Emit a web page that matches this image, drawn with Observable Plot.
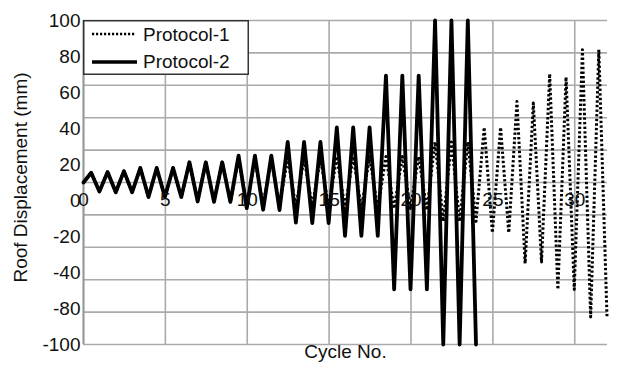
<!DOCTYPE html>
<html>
<head>
<meta charset="utf-8">
<script src="https://cdn.jsdelivr.net/npm/d3@7"></script>
<script src="https://cdn.jsdelivr.net/npm/@observablehq/plot@0.6"></script>
<style>
  html, body { margin: 0; padding: 0; background: #fff; }
  #wrap { position: relative; width: 623px; height: 371px; font-family: "Liberation Sans", Arial, sans-serif; }
  #legend { position: absolute; left: 83px; top: 20px; }
</style>
</head>
<body>
<div id="wrap"></div>
<script>
// ---- data ----
const seriesNames = ["Protocol-1", "Protocol-2"];
// peak / valley displacement (mm) of each cycle
const p1Peaks   = [6, 6.5, 7, 9, 9, 9, 12.5, 12.5, 12.5, 14, 14, 14, 15, 15, 15, 16, 16, 16, 16, 16, 16, 25, 25, 25, 34, 34, 50, 49, 67, 65, 82, 82];
const p1Valleys = [-5.5, -6, -6, -9, -9, -9, -11.7, -12, -12, -14, -14, -14, -15, -15, -15, -16, -16, -16, -16, -16, -17, -24, -24, -24, -31, -31, -50, -49, -66, -66, -83, -83];
const p2Peaks   = [6, 6.5, 7, 9, 9, 9, 12.5, 12.5, 12.5, 16.6, 16.6, 16.6, 25, 25, 25, 34, 34, 34, 66, 66, 66, 100, 100, 100];
const p2Valleys = [-5.5, -6, -6, -9, -9, -9, -11.7, -12, -12, -15.8, -16.8, -17, -24.7, -25, -25, -33, -33, -33, -66, -66, -66, -100, -100, -100];
const xTicks = [0, 5, 10, 15, 20, 25, 30];
const yGrid = [-100, -80, -60, -40, -20, 0, 20, 40, 60, 80, 100];
const yTickLabels = ["100", "80", "60", "40", "20", "0", "-20", "-40", "-80", "-100"];
const xLabel = "Cycle No.";
const yLabel = "Roof Displacement (mm)";

// build the zig-zag history: start at 0, then peak and valley of every cycle
function history(peaks, valleys, name) {
  const pts = [{cycle: 0, disp: 0, series: name}];
  peaks.forEach((p, i) => {
    pts.push({cycle: i + 0.47, disp: p, series: name});
    pts.push({cycle: i + 0.97, disp: valleys[i], series: name});
  });
  return pts;
}
const p1 = history(p1Peaks, p1Valleys, seriesNames[0]);
const p2 = history(p2Peaks, p2Valleys, seriesNames[1]);

// y label slots (evenly spread over the axis, as in the reference)
const yLabelPos = yTickLabels.map((_, i) => 100 - i * 200 / (yTickLabels.length - 1));

const font = "\"Liberation Sans\", Arial, sans-serif";
const chart = Plot.plot({
  width: 623,
  height: 371,
  marginLeft: 83,
  marginRight: 16,
  marginTop: 20,
  marginBottom: 27,
  style: {fontFamily: font, fontSize: "19px", color: "#111", background: "#fff", overflow: "visible"},
  x: {domain: [0, 32], axis: null},
  y: {domain: [-100, 100], axis: null},
  marks: [
    Plot.gridX(xTicks.filter(d => d > 0), {stroke: "#aaa", strokeOpacity: 1, strokeWidth: 1.6}),
    Plot.gridY(yGrid, {stroke: "#aaa", strokeOpacity: 1, strokeWidth: 1.6}),
    Plot.ruleX([0], {stroke: "#999", strokeWidth: 2.2}),
    Plot.line(p2, {x: "cycle", y: "disp", stroke: "#000", strokeWidth: 3.8, strokeLinejoin: "round"}),
    Plot.line(p1, {x: "cycle", y: "disp", stroke: "#000", strokeWidth: 3, strokeDasharray: "2.4,2.2", strokeLinejoin: "round", strokeLinecap: "butt"}),
    Plot.text(xTicks, {x: d => d, y: () => 0, dy: 17, text: d => String(d), fontSize: 19, fill: "#111"}),
    Plot.text(yTickLabels, {frameAnchor: "left", y: (d, i) => yLabelPos[i], text: d => d, textAnchor: "end", dx: -3, fontSize: 19, fill: "#111"}),
    Plot.text([yLabel], {frameAnchor: "left", rotate: -90, textAnchor: "middle", dx: -63, dy: -5, text: d => d, fontSize: 19, fill: "#111"}),
    Plot.text([xLabel], {frameAnchor: "bottom", dy: 13, text: d => d, fontSize: 19, fill: "#111"})
  ]
});
const wrap = document.getElementById("wrap");
wrap.appendChild(chart);

// legend overlay (inside the plot frame, top-left)
const legend = document.createElement("div");
legend.id = "legend";
legend.innerHTML = `
<svg width="166" height="55" style="display:block;font-family:${font.replace(/"/g, "'")}">
  <rect x="0.75" y="0.75" width="164.5" height="53.5" fill="#fff" stroke="#333" stroke-width="1.5"/>
  <line x1="9" x2="52" y1="14" y2="14" stroke="#000" stroke-width="2.6" stroke-dasharray="2.2,1.8"/>
  <text x="60" y="14" dy="0.35em" font-size="19" fill="#111">${seriesNames[0]}</text>
  <line x1="9" x2="54" y1="42" y2="42" stroke="#000" stroke-width="3.6"/>
  <text x="60" y="41" dy="0.35em" font-size="19" fill="#111">${seriesNames[1]}</text>
</svg>`;
wrap.appendChild(legend);
</script>
</body>
</html>
